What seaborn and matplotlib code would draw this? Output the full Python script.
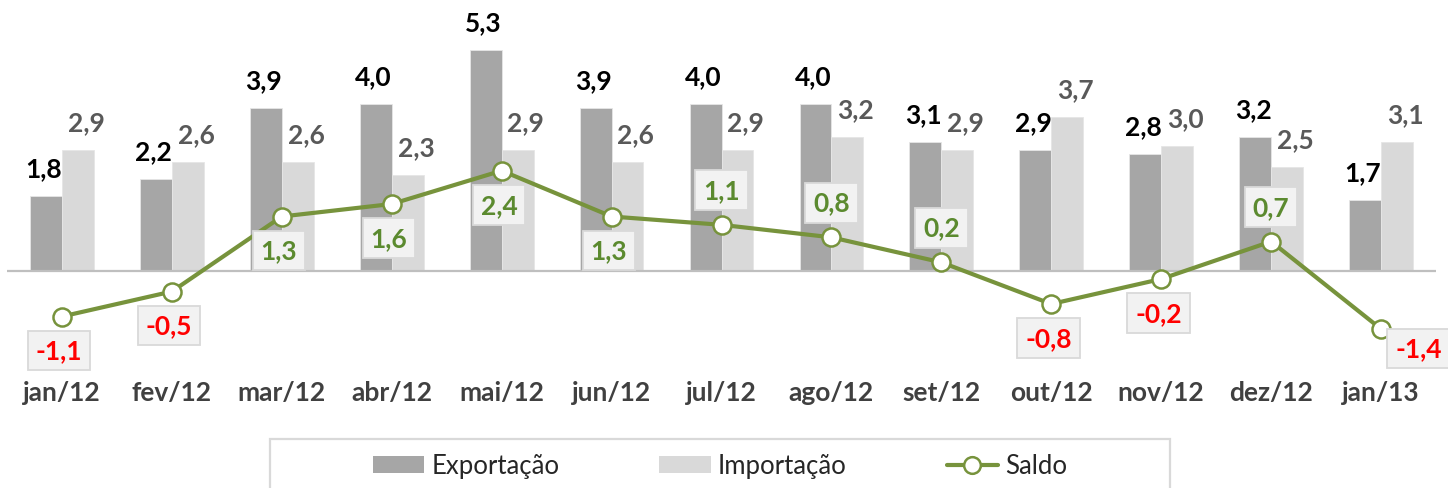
import numpy as np
import pandas as pd
import seaborn as sns
import matplotlib.pyplot as plt
from matplotlib.lines import Line2D
from matplotlib.patches import Patch, Rectangle

# data (US$ bilhões)
months = ['jan/12', 'fev/12', 'mar/12', 'abr/12', 'mai/12', 'jun/12', 'jul/12',
          'ago/12', 'set/12', 'out/12', 'nov/12', 'dez/12', 'jan/13']
exportacao = [1.8, 2.2, 3.9, 4.0, 5.3, 3.9, 4.0, 4.0, 3.1, 2.9, 2.8, 3.2, 1.7]
importacao = [2.9, 2.6, 2.6, 2.3, 2.9, 2.6, 2.9, 3.2, 2.9, 3.7, 3.0, 2.5, 3.1]
saldo = [-1.1, -0.5, 1.3, 1.6, 2.4, 1.3, 1.1, 0.8, 0.2, -0.8, -0.2, 0.7, -1.4]

# where each saldo label sits relative to its marker
saldo_side = {'jul/12': 'above', 'ago/12': 'above', 'set/12': 'above',
              'dez/12': 'above', 'jan/13': 'right'}

EXP_COLOR = '#a6a6a6'
IMP_COLOR = '#d9d9d9'
LINE_COLOR = '#77933c'

sns.set_style('white')
plt.rcParams['font.family'] = ['Lato', 'DejaVu Sans']


def fmt(v):
    '''
    decimal comma like the original
    '''
    return ('%.1f' % v).replace('.', ',')


df = pd.DataFrame({'Mês': months * 2,
                   'Série': ['Exportação'] * len(months) + ['Importação'] * len(months),
                   'Valor': exportacao + importacao})

fig = plt.figure(figsize=(14.48, 4.89), dpi=100)
ax = fig.add_axes([7 / 1448, 1 - 355 / 489, 1429 / 1448, 355 / 489])

sns.barplot(data=df, x='Mês', y='Valor', hue='Série', order=months,
            palette={'Exportação': EXP_COLOR, 'Importação': IMP_COLOR},
            width=0.58, gap=0, saturation=1, edgecolor='#e6e6e6', linewidth=0.6,
            legend=False, ax=ax)

x = np.arange(len(months))
ax.axhline(0, color='#bfbfbf', lw=1.6, zorder=1)
sns.lineplot(x=x, y=saldo, color=LINE_COLOR, lw=3, marker='o', markersize=13,
             markerfacecolor='white', markeredgecolor=LINE_COLOR, markeredgewidth=1.8,
             ax=ax, zorder=5)

# bar value labels
bw = 0.58 / 2
for i in range(len(months)):
    ax.annotate(fmt(exportacao[i]), (x[i] - bw / 2 - 0.02, exportacao[i]), xytext=(0, 20),
                textcoords='offset points', ha='center', va='center',
                fontsize=19, fontweight='bold', color='black')
    ax.annotate(fmt(importacao[i]), (x[i] + bw / 2 + 0.075, importacao[i]), xytext=(0, 20),
                textcoords='offset points', ha='center', va='center',
                fontsize=19, fontweight='bold', color='#595959')

# saldo labels in boxes
for i, m in enumerate(months):
    side = saldo_side.get(m, 'below')
    off = {'below': (-2, -24.5), 'above': (0, 25), 'right': (27, -14)}[side]
    col = '#ff0000' if saldo[i] < 0 else '#5b8a2f'
    ax.annotate(fmt(saldo[i]), (x[i], saldo[i]), xytext=off, textcoords='offset points',
                ha='center', va='center', fontsize=19, fontweight='bold', color=col,
                bbox=dict(boxstyle='square,pad=0.3', fc='#f2f2f2', ec='#d9d9d9', lw=1.3),
                zorder=6, annotation_clip=False)

ax.set_xlim(-0.5, len(months) - 0.5)
ax.set_ylim(-2.0, 6.52)
ax.set_xlabel('')
ax.set_ylabel('')
ax.set_yticks([])
ax.set_xticks(x)
ax.set_xticklabels(months, fontsize=19, fontweight='bold', color='#404040')
ax.tick_params(axis='x', length=0, pad=19)
sns.despine(ax=ax, left=True, bottom=True)

# legend box runs off the bottom edge like the original
fig.patches.append(Rectangle((270 / 1448, -0.1), 900 / 1448, 49 / 489 + 0.1,
                             transform=fig.transFigure, fill=False,
                             ec='#d9d9d9', lw=1.6))
handles = [Patch(facecolor=EXP_COLOR, edgecolor='none', label='Exportação'),
           Patch(facecolor=IMP_COLOR, edgecolor='none', label='Importação'),
           Line2D([], [], color=LINE_COLOR, lw=3, marker='o', markersize=12,
                  markerfacecolor='white', markeredgecolor=LINE_COLOR,
                  markeredgewidth=1.8, label='Saldo')]
fig.legend(handles=handles, loc='center', ncol=3,
           bbox_to_anchor=(720 / 1448, 1 - 467 / 489), frameon=False, fontsize=18.5,
           handlelength=2.0, handleheight=0.62, handletextpad=0.27,
           columnspacing=3.9, borderpad=0, borderaxespad=0)

plt.savefig('out.png', dpi=100)
